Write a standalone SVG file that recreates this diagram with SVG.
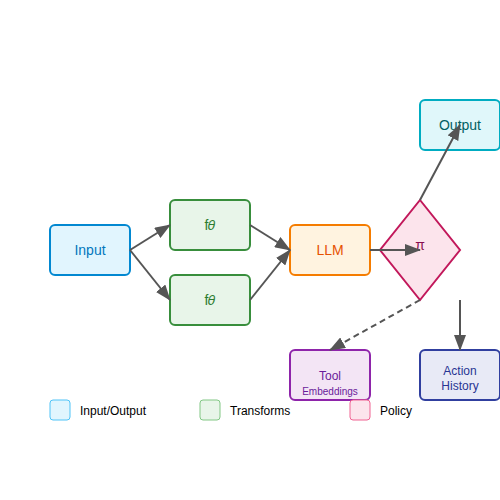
<svg xmlns="http://www.w3.org/2000/svg" width="500" height="500" viewBox="0 0 500 500">
<defs>
<marker id="arr" markerUnits="userSpaceOnUse" markerWidth="16" markerHeight="12" refX="15" refY="6" orient="auto">
<path d="M0,0 L16,6 L0,12 Z" fill="#555"/>
</marker>
<style>
text{font-family:"Liberation Sans",Arial,sans-serif;text-anchor:middle}
.n rect,.n polygon{stroke-width:2}
.e{stroke:#555;stroke-width:2;fill:none;marker-end:url(#arr)}
.lg{font-size:12px;text-anchor:start;fill:#000}
</style>
</defs>
<rect width="500" height="500" fill="#fff"/>
<g id="input" class="n">
<rect x="50" y="225" width="80" height="50" rx="5" fill="#e1f5fe" stroke="#0288d1"/>
<text x="90" y="255" font-size="14" fill="#0277bd">Input</text>
</g>
<g id="f1" class="n">
<rect x="170" y="200" width="80" height="50" rx="5" fill="#e8f5e9" stroke="#388e3c"/>
<text x="210" y="230" font-size="14" fill="#2e7d32">f𝜃</text>
</g>
<g id="f2" class="n">
<rect x="170" y="275" width="80" height="50" rx="5" fill="#e8f5e9" stroke="#388e3c"/>
<text x="210" y="305" font-size="14" fill="#2e7d32">f𝜃</text>
</g>
<g id="llm" class="n">
<rect x="290" y="225" width="80" height="50" rx="5" fill="#fff3e0" stroke="#f57c00"/>
<text x="330" y="255" font-size="14" fill="#e65100">LLM</text>
</g>
<g id="policy" class="n">
<polygon points="420,200 460,250 420,300 380,250" fill="#fce4ec" stroke="#c2185b"/>
<text x="420" y="250" font-size="14" fill="#880e4f">π</text>
</g>
<g id="output" class="n">
<rect x="420" y="100" width="80" height="50" rx="5" fill="#e0f7fa" stroke="#00acc1"/>
<text x="460" y="130" font-size="14" fill="#006064">Output</text>
</g>
<g id="tool" class="n">
<rect x="290" y="350" width="80" height="50" rx="5" fill="#f3e5f5" stroke="#8e24aa"/>
<text x="330" y="380" font-size="12" fill="#6a1b9a">Tool</text>
<text x="330" y="395" font-size="10" fill="#6a1b9a">Embeddings</text>
</g>
<g id="history" class="n">
<rect x="420" y="350" width="80" height="50" rx="5" fill="#e8eaf6" stroke="#303f9f"/>
<text x="460" y="375" font-size="12" fill="#283593">Action</text>
<text x="460" y="390" font-size="12" fill="#283593">History</text>
</g>
<g id="connectors">
<line class="e" x1="130" y1="250" x2="170" y2="225"/>
<line class="e" x1="130" y1="250" x2="170" y2="300"/>
<line class="e" x1="250" y1="225" x2="290" y2="250"/>
<line class="e" x1="250" y1="300" x2="290" y2="250"/>
<line class="e" x1="370" y1="250" x2="420" y2="250"/>
<line class="e" x1="420" y1="200" x2="460" y2="125"/>
<line class="e" x1="420" y1="300" x2="330" y2="350" stroke-dasharray="6,4"/>
<line class="e" x1="460" y1="300" x2="460" y2="350"/>
</g>
<g id="legend">
<rect x="50" y="400" width="20" height="20" rx="3" fill="#e1f5fe" stroke="#4fc3f7"/>
<text class="lg" x="80" y="415">Input/Output</text>
<rect x="200" y="400" width="20" height="20" rx="3" fill="#e8f5e9" stroke="#81c784"/>
<text class="lg" x="230" y="415">Transforms</text>
<rect x="350" y="400" width="20" height="20" rx="3" fill="#fce4ec" stroke="#f06292"/>
<text class="lg" x="380" y="415">Policy</text>
</g>
</svg>
